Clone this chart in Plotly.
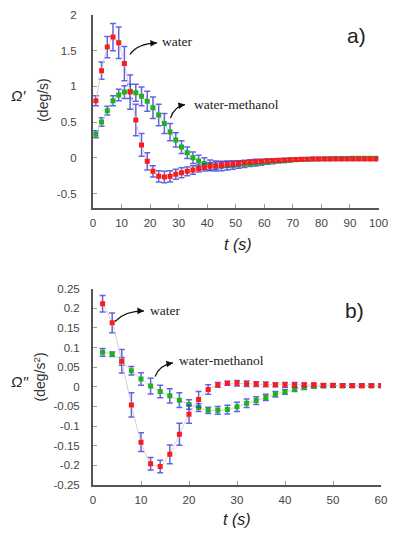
import plotly.graph_objects as go

# ---------------- data ----------------
t_a = list(range(1, 100, 2))
water_a = [0.80, 1.22, 1.55, 1.69, 1.61, 1.32, 0.92, 0.53, 0.18, -0.05,
           -0.19, -0.26, -0.27, -0.26, -0.23, -0.21, -0.19, -0.17, -0.15, -0.135,
           -0.12, -0.11, -0.10, -0.09, -0.085, -0.075, -0.065, -0.058, -0.052, -0.047,
           -0.043, -0.038, -0.034, -0.03, -0.027, -0.024, -0.021, -0.02, -0.018, -0.017,
           -0.017, -0.017, -0.017, -0.016, -0.016, -0.016, -0.016, -0.016, -0.016, -0.016]
water_a_err = [0.07, 0.12, 0.15, 0.19, 0.22, 0.24, 0.24, 0.22, 0.16, 0.12,
               0.08, 0.08, 0.08, 0.08, 0.07, 0.07, 0.06, 0.06, 0.05, 0.05,
               0.05, 0.05, 0.04, 0.04, 0.04, 0.035, 0.03, 0.03, 0.03, 0.025,
               0.025, 0.02, 0.02, 0.02, 0.02, 0.018, 0.018, 0.016, 0.016, 0.015,
               0.015, 0.015, 0.015, 0.015, 0.015, 0.015, 0.015, 0.015, 0.015, 0.015]
wm_a = [0.33, 0.50, 0.66, 0.80, 0.88, 0.92, 0.93, 0.91, 0.86, 0.79,
        0.70, 0.60, 0.48, 0.36, 0.25, 0.15, 0.07, 0.0, -0.045, -0.08,
        -0.105, -0.115, -0.115, -0.11, -0.105, -0.098, -0.09, -0.082, -0.075, -0.068,
        -0.06, -0.053, -0.046, -0.04, -0.034, -0.029, -0.025, -0.021, -0.018, -0.016,
        -0.014, -0.012, -0.011, -0.01, -0.009, -0.008, -0.007, -0.006, -0.006, -0.005]
wm_a_err = [0.05, 0.06, 0.06, 0.07, 0.08, 0.09, 0.10, 0.12, 0.13, 0.14,
            0.15, 0.15, 0.14, 0.12, 0.10, 0.09, 0.08, 0.08, 0.08, 0.08,
            0.075, 0.07, 0.065, 0.06, 0.055, 0.05, 0.045, 0.04, 0.04, 0.035,
            0.03, 0.03, 0.025, 0.025, 0.02, 0.02, 0.018, 0.016, 0.015, 0.015,
            0.015, 0.015, 0.015, 0.015, 0.015, 0.015, 0.015, 0.015, 0.015, 0.015]

t_b = list(range(2, 61, 2))
water_b = [0.212, 0.163, 0.065, -0.046, -0.141, -0.196, -0.203, -0.172, -0.121, -0.07,
           -0.032, -0.007, 0.005, 0.009, 0.009, 0.008, 0.007, 0.006, 0.005, 0.005,
           0.005, 0.005, 0.005, 0.004, 0.004, 0.003, 0.003, 0.003, 0.003, 0.003]
water_b_err = [0.021, 0.025, 0.03, 0.031, 0.024, 0.016, 0.016, 0.024, 0.028, 0.023,
               0.02, 0.012, 0.006, 0.005, 0.007, 0.007, 0.006, 0.006, 0.005, 0.006,
               0.006, 0.005, 0.004, 0.004, 0.004, 0.004, 0.004, 0.003, 0.003, 0.003]
wm_b = [0.088, 0.083, 0.065, 0.041, 0.02, 0.002, -0.012, -0.023, -0.034, -0.045,
        -0.053, -0.06, -0.06, -0.058, -0.051, -0.042, -0.035, -0.027, -0.019, -0.013,
        -0.007, -0.002, 0.001, 0.002, 0.003, 0.003, 0.003, 0.003, 0.003, 0.003]
wm_b_err = [0.01, 0.006, 0.01, 0.011, 0.016, 0.02, 0.016, 0.018, 0.019, 0.012,
            0.01, 0.008, 0.01, 0.011, 0.012, 0.011, 0.01, 0.008, 0.007, 0.006,
            0.005, 0.005, 0.004, 0.004, 0.004, 0.004, 0.004, 0.004, 0.004, 0.004]

xticks_a = [0, 10, 20, 30, 40, 50, 60, 70, 80, 90, 100]
yticks_a = [-0.5, 0, 0.5, 1, 1.5, 2]
yticklabels_a = ["-0.5", "0", "0.5", "1", "1.5", "2"]
xticks_b = [0, 10, 20, 30, 40, 50, 60]
yticks_b = [-0.25, -0.2, -0.15, -0.1, -0.05, 0, 0.05, 0.1, 0.15, 0.2, 0.25]
yticklabels_b = ["-0.25", "-0.2", "-0.15", "-0.1", "-0.05", "0", "0.05", "0.1", "0.15", "0.2", "0.25"]

# ---------------- styling ----------------
OFF = 8                  # default page margin of the html body
W, H = 390, 520          # small enough that the page never scrolls
RED = "#ff1a1a"
GREEN = "#1db31d"
ERR = "rgba(60,60,215,0.8)"
LINE = "#cfcfcf"


def ry(y):
    """reference y pixel -> window y pixel (slight vertical squeeze)"""
    return 0.5 + 0.964 * y


def px(x, y):
    """reference pixel -> paper coordinates"""
    return (x - OFF) / W, 1 - (ry(y) - OFF) / H


def dom_x(a, b):
    return [px(a, 0)[0], px(b, 0)[0]]


def dom_y(top, bottom):
    return [px(0, bottom)[1], px(0, top)[1]]


fig = go.Figure()


def add_series(x, y, e, color, xa, ya):
    fig.add_trace(go.Scatter(
        x=x, y=y, mode="lines+markers", xaxis=xa, yaxis=ya,
        line=dict(color=LINE, width=1, shape="spline", smoothing=0.6),
        marker=dict(symbol="square", size=5, color=color),
        error_y=dict(type="data", array=e, color=ERR, thickness=1.5, width=3),
        showlegend=False, hoverinfo="x+y"))


add_series(t_a, wm_a, wm_a_err, GREEN, "x", "y")
add_series(t_a, water_a, water_a_err, RED, "x", "y")
add_series(t_b, wm_b, wm_b_err, GREEN, "x2", "y2")
add_series(t_b, water_b, water_b_err, RED, "x2", "y2")

tickfont = dict(family="Liberation Sans, Arial, sans-serif", size=11.5, color="#444")
axcommon = dict(showline=True, linecolor="#555", linewidth=2, ticks="inside", ticklen=4,
                tickcolor="#999", tickwidth=1, showgrid=False, zeroline=False,
                tickfont=tickfont, ticklabeloverflow="allow")

fig.update_layout(
    width=W, height=H, margin=dict(l=0, r=0, t=0, b=0, autoexpand=False),
    paper_bgcolor="white", plot_bgcolor="white",
    xaxis=dict(domain=dom_x(93, 378.5), range=[0, 100], tickvals=xticks_a,
               anchor="y", ticklabelstandoff=3, **axcommon),
    yaxis=dict(domain=dom_y(15, 215), range=[-0.7, 2], tickvals=yticks_a,
               ticktext=yticklabels_a, anchor="x", ticklabelstandoff=12, **axcommon),
    xaxis2=dict(domain=dom_x(93, 381), range=[0, 60], tickvals=xticks_b,
                anchor="y2", ticklabelstandoff=3, **axcommon),
    yaxis2=dict(domain=dom_y(299, 502.5), range=[-0.25, 0.25], tickvals=yticks_b,
                ticktext=yticklabels_b, anchor="x2", ticklabelstandoff=9, **axcommon),
)

sans = "Liberation Sans, Arial, sans-serif"
serif = "Liberation Serif, Times New Roman, serif"


def text(x, y, s, size, family=sans, angle=0, xanchor="center", color="#222"):
    X, Y = px(x, y)
    fig.add_annotation(x=X, y=Y, xref="paper", yref="paper", text=s, showarrow=False,
                       font=dict(family=family, size=size, color=color), textangle=angle,
                       xanchor=xanchor, yanchor="middle")


# axis titles and panel labels
text(18, 99, "<i>Ω′</i>", 15)
text(43, 103, "(deg/s)", 14, angle=-90, color="#333")
text(238, 253, "<i>t (s)</i>", 16)
text(356, 36, "a)", 21)

text(20, 395, "<i>Ω′′</i>", 15)
text(40, 391, "(deg/s<sup>2</sup>)", 14, angle=-90, color="#333")
text(237, 538, "<i>t (s)</i>", 16)
text(354, 322, "b)", 21)

# series labels
text(160, 43, "water", 13.5, family=serif, xanchor="left")
text(192, 108, "water-methanol", 13.5, family=serif, xanchor="left")
text(148, 322, "water", 13.5, family=serif, xanchor="left")
text(177, 373, "water-methanol", 13.5, family=serif, xanchor="left")


# curved arrows: path + arrowhead
def arrow(tail, ctrl, head):
    t = px(*tail)
    c = px(*ctrl)
    h = px(*head)
    fig.add_shape(type="path", xref="paper", yref="paper",
                  path=f"M {t[0]},{t[1]} Q {c[0]},{c[1]} {h[0]},{h[1]}",
                  line=dict(color="#111", width=1.2))
    dx, dy = head[0] - ctrl[0], head[1] - ctrl[1]
    n = (dx * dx + dy * dy) ** 0.5
    fig.add_annotation(x=h[0], y=h[1], xref="paper", yref="paper", text=" ",
                       showarrow=True, arrowhead=2, arrowsize=1.1, arrowwidth=1.2,
                       arrowcolor="#111", ax=-dx / n * 6, ay=-dy / n * 6,
                       font=dict(size=1))


arrow((130, 56), (137, 45), (157, 44))
arrow((170.5, 122), (174, 110), (185, 108))
arrow((115, 333), (125, 322), (144, 322))
arrow((155, 390), (160, 378), (173, 376))

fig.write_html("out.html")
